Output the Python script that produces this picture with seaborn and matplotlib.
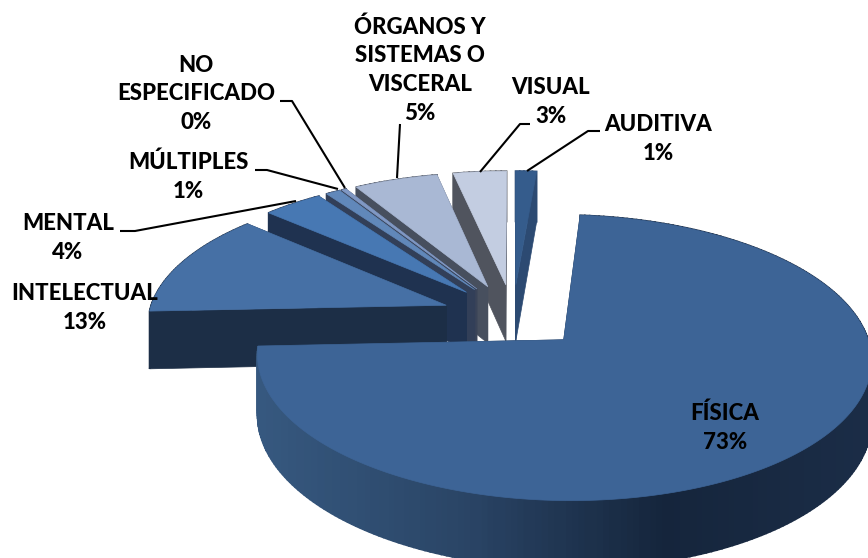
import numpy as np
import seaborn as sns
import matplotlib.pyplot as plt

# Data, clockwise from the top of the pie
categories = ['AUDITIVA', 'FÍSICA', 'INTELECTUAL', 'MENTAL', 'MÚLTIPLES',
              'NO\nESPECIFICADO', 'ÓRGANOS Y\nSISTEMAS O\nVISCERAL', 'VISUAL']
shown_pct = [1, 73, 13, 4, 1, 0, 5, 3]
values = [1.3, 73.0, 12.3, 3.7, 0.9, 0.3, 5.2, 3.3]

top_colors = ['#355c8c', '#3d6496', '#4670a5', '#4778b3', '#6188ba', '#8098c4', '#a9b8d4', '#c3cde1']
wall_colors = ['#2c4a72', '#1c2e46', '#1c2e46', '#1f3250', '#323f58', '#3a4458', '#474f5e', '#50545e']

# Where the labels sit, same order as categories
label_pos = [(658, 139), (725, 428), (85, 308), (68, 238), (188, 177), (196, 94), (420, 70), (551, 102)]

# Leader lines for the small slices
leaders = [
    [(600, 131), (588, 131), (527, 171)],
    [(120, 231), (135, 231), (296, 201)],
    [(255, 170), (267, 170), (338, 189)],
    [(280, 101), (292, 101), (345, 188)],
    [(400, 124), (397, 178)],
    [(530, 124), (520, 124), (480, 172)],
]

sns.set_theme(style='white')
plt.rcParams['font.family'] = ['Lato', 'DejaVu Sans']

# Perspective of the pie plane
cx, cy = 513, 316
rx, ry = 298, 134.7
persp = 0.123
explode = 0.24
depth = 58


def project(u, v, down=0.0):
    s = 1 / (1 + persp * v)
    return cx + rx * u * s, cy - ry * v * s + down * s


fig = plt.figure(figsize=(8.68, 5.58), dpi=100)
ax = fig.add_axes([0, 0, 1, 1])
ax.set_xlim(0, 868)
ax.set_ylim(558, 0)
ax.axis('off')

# Side of the big slice goes lighter on the left, darker on the right
side_pal = sns.blend_palette(['#36587f', '#2a4566', '#15253c', '#1b2d47'], 80)

shares = np.array(values) / sum(values) * 360
ends = np.cumsum(shares)
starts = ends - shares

# Back slices first, the big one last
order = [0, 7, 6, 5, 4, 3, 2, 1]
for i in order:
    mid = np.radians((starts[i] + ends[i]) / 2)
    u0, v0 = explode * np.sin(mid), explode * np.cos(mid)
    th = np.radians(np.linspace(starts[i], ends[i], max(int(shares[i]), 6)))
    us, vs = u0 + np.sin(th), v0 + np.cos(th)

    # flat faces from centre to rim
    for k in [0, -1]:
        a = project(u0, v0), project(us[k], vs[k]), project(us[k], vs[k], depth), project(u0, v0, depth)
        ax.fill(*zip(*a), color=wall_colors[i], lw=0.5, zorder=2)

    # rim
    for k in range(len(th) - 1):
        a = (project(us[k], vs[k]), project(us[k + 1], vs[k + 1]),
             project(us[k + 1], vs[k + 1], depth), project(us[k], vs[k], depth))
        if i == 1:
            pos = np.clip((a[0][0] - 258) / 610, 0, 1)
            col = side_pal[int(pos * 79)]
        else:
            col = wall_colors[i]
        ax.fill(*zip(*a), color=col, lw=1.2, zorder=2)

    # top face
    pts = [project(u0, v0)] + [project(a, b) for a, b in zip(us, vs)]
    ax.fill(*zip(*pts), color=top_colors[i], lw=0.5, zorder=2)

for line in leaders:
    ax.plot(*zip(*line), color='black', lw=1.5, zorder=3, solid_capstyle='butt')

for name, pct, (x, y) in zip(categories, shown_pct, label_pos):
    ax.text(x, y, f'{name}\n{pct}%', ha='center', va='center', fontsize=16,
            fontweight='black', color='black', linespacing=1.45, zorder=4)

plt.savefig('out.png', dpi=100)
